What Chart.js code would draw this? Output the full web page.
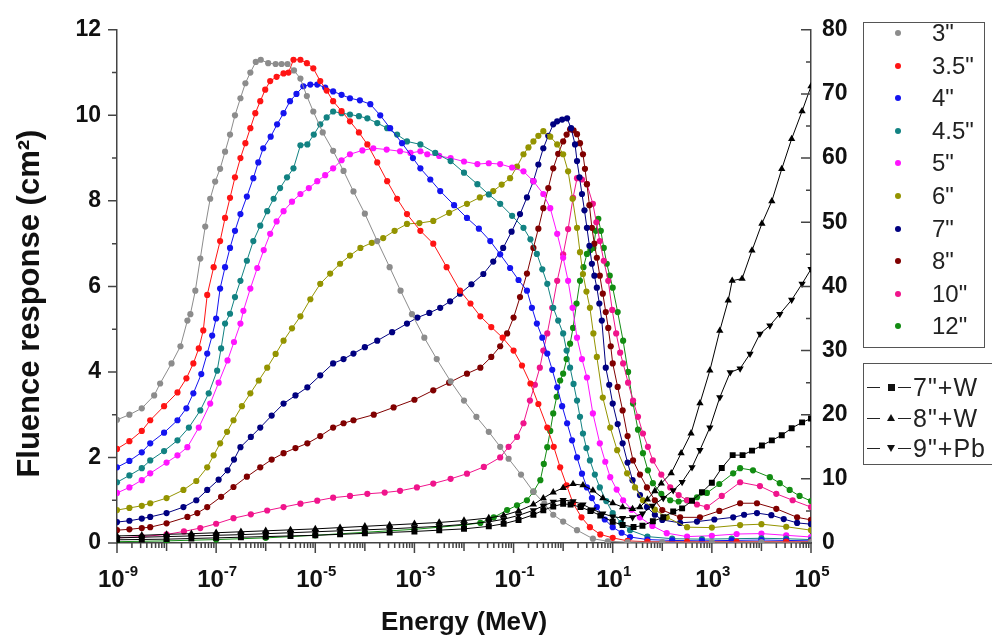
<!DOCTYPE html>
<html><head><meta charset="utf-8">
<script src="https://cdn.jsdelivr.net/npm/chart.js@4.4.0/dist/chart.umd.min.js"></script>
<style>
html,body{margin:0;padding:0;background:#fff;overflow:hidden;width:992px;height:644px;}
#wrap{position:relative;width:992px;height:644px;overflow:hidden;}
#c{position:absolute;left:0;top:0;}
.box{position:absolute;border:1.5px solid #555;background:#fff;box-sizing:border-box;}
.row{position:absolute;font-family:"Liberation Sans",Arial,sans-serif;color:#222;white-space:nowrap;}
.dot{position:absolute;width:6px;height:6px;border-radius:50%;}
.dash{position:absolute;height:0;border-top:1.3px solid #222;width:13px;}
.mk{position:absolute;}
</style>
</head><body><div id="wrap"><canvas id="c" width="992" height="644"></canvas>
<div id="leg1" class="box" style="left:863px;top:22px;width:122px;height:326px;"></div>
<div id="leg2" class="box" style="left:863px;top:363px;width:150px;height:102px;"></div>
</div>
<script>
// ---- data: [log10(Energy/MeV), fluence response] ----
const s3 = [[-9,2.88],[-8.75,3.0],[-8.5,3.15],[-8.25,3.45],[-8.13,3.73],[-7.9,4.2],[-7.72,4.6],[-7.58,5.2],[-7.52,5.35],[-7.42,5.9],[-7.32,6.65],[-7.22,7.4],[-7.12,8.05],[-7.02,8.45],[-6.92,8.75],[-6.82,9.15],[-6.72,9.55],[-6.62,10.0],[-6.51,10.4],[-6.41,10.75],[-6.31,11.0],[-6.2,11.25],[-6.1,11.3],[-5.95,11.22],[-5.8,11.2],[-5.68,11.2],[-5.56,11.2],[-5.43,11.05],[-5.3,10.86],[-5.17,10.45],[-5.04,10.09],[-4.85,9.6],[-4.64,9.17],[-4.43,8.7],[-4.23,8.22],[-4.0,7.7],[-3.75,7.06],[-3.5,6.45],[-3.28,5.9],[-3.05,5.35],[-2.8,4.8],[-2.55,4.3],[-2.27,3.78],[-2.0,3.33],[-1.75,2.95],[-1.5,2.6],[-1.27,2.25],[-1.1,1.97],[-0.85,1.6],[-0.6,1.2],[-0.38,0.92],[-0.2,0.66],[0.0,0.5],[0.28,0.3],[0.6,0.1],[0.9,0.04],[1.3,0.02],[2,0.02],[3,0.02],[4,0.02],[5,0.02]];
const s35 = [[-9,2.2],[-8.75,2.38],[-8.5,2.62],[-8.33,2.87],[-8.05,3.2],[-7.78,3.52],[-7.6,3.85],[-7.46,4.2],[-7.35,4.55],[-7.26,4.97],[-7.18,5.8],[-7.05,6.45],[-6.92,7.06],[-6.82,7.6],[-6.72,8.07],[-6.62,8.55],[-6.51,9.0],[-6.41,9.35],[-6.31,9.7],[-6.21,10.05],[-6.11,10.33],[-6.01,10.6],[-5.91,10.8],[-5.78,10.9],[-5.64,10.98],[-5.54,11.0],[-5.44,11.3],[-5.3,11.3],[-5.17,11.22],[-5.04,11.1],[-4.9,10.8],[-4.77,10.58],[-4.64,10.33],[-4.47,10.1],[-4.3,9.86],[-4.12,9.6],[-3.95,9.32],[-3.75,8.9],[-3.55,8.46],[-3.35,8.05],[-3.15,7.69],[-2.88,7.3],[-2.62,7.0],[-2.35,6.45],[-2.08,5.9],[-1.87,5.6],[-1.67,5.3],[-1.45,5.05],[-1.22,4.8],[-1.0,4.5],[-0.83,4.15],[-0.66,3.73],[-0.5,3.25],[-0.32,2.7],[-0.19,2.25],[-0.06,1.77],[0.07,1.35],[0.2,0.93],[0.37,0.6],[0.54,0.37],[0.75,0.2],[1.0,0.12],[1.3,0.05],[1.7,0.03],[2.5,0.03],[3.5,0.03],[4.5,0.03],[5,0.03]];
const s4 = [[-9,1.77],[-8.75,1.92],[-8.5,2.12],[-8.33,2.33],[-8.05,2.58],[-7.78,2.87],[-7.6,3.15],[-7.46,3.5],[-7.3,3.95],[-7.18,4.43],[-7.08,4.85],[-7.0,5.25],[-6.92,5.95],[-6.82,6.45],[-6.72,6.9],[-6.62,7.3],[-6.51,7.69],[-6.38,8.1],[-6.25,8.53],[-6.15,8.9],[-6.05,9.23],[-5.9,9.5],[-5.77,9.79],[-5.64,10.05],[-5.51,10.33],[-5.38,10.5],[-5.24,10.68],[-5.1,10.72],[-4.96,10.72],[-4.8,10.65],[-4.64,10.56],[-4.47,10.48],[-4.3,10.4],[-4.1,10.35],[-3.89,10.26],[-3.69,10.0],[-3.49,9.7],[-3.25,9.35],[-3.03,9.0],[-2.88,8.76],[-2.68,8.5],[-2.48,8.23],[-2.2,7.9],[-1.94,7.6],[-1.7,7.35],[-1.47,7.06],[-1.27,6.75],[-1.07,6.43],[-0.9,6.15],[-0.73,5.9],[-0.63,5.5],[-0.53,5.13],[-0.42,4.8],[-0.32,4.43],[-0.22,4.05],[-0.12,3.64],[-0.02,3.2],[0.08,2.8],[0.18,2.4],[0.28,2.0],[0.38,1.62],[0.48,1.3],[0.58,1.05],[0.68,0.84],[0.84,0.55],[1.0,0.37],[1.18,0.24],[1.35,0.14],[1.7,0.08],[2.2,0.06],[2.8,0.05],[3.4,0.06],[4.0,0.07],[4.5,0.06],[5,0.05]];
const s45 = [[-9,1.42],[-8.75,1.58],[-8.5,1.75],[-8.33,1.93],[-8.05,2.15],[-7.78,2.4],[-7.55,2.7],[-7.32,3.1],[-7.15,3.5],[-6.98,4.03],[-6.9,4.55],[-6.82,5.13],[-6.72,5.36],[-6.62,5.75],[-6.51,6.13],[-6.38,6.6],[-6.25,7.06],[-6.11,7.42],[-5.97,7.76],[-5.84,8.05],[-5.71,8.3],[-5.57,8.55],[-5.44,8.76],[-5.3,9.3],[-5.16,9.32],[-5.03,9.55],[-4.9,9.79],[-4.77,9.95],[-4.64,10.09],[-4.47,10.05],[-4.3,10.02],[-4.12,9.98],[-3.95,9.93],[-3.75,9.82],[-3.55,9.7],[-3.35,9.55],[-3.15,9.39],[-2.88,9.32],[-2.58,9.12],[-2.27,8.93],[-2.0,8.66],[-1.73,8.39],[-1.5,8.15],[-1.27,7.93],[-1.03,7.65],[-0.8,7.37],[-0.66,7.1],[-0.53,6.76],[-0.42,6.4],[-0.32,6.06],[-0.2,5.5],[-0.1,5.2],[0.0,4.9],[0.07,4.5],[0.14,4.1],[0.21,3.72],[0.28,3.33],[0.34,2.95],[0.4,2.56],[0.47,2.22],[0.54,1.93],[0.64,1.6],[0.74,1.3],[0.87,0.98],[1.0,0.7],[1.17,0.47],[1.35,0.3],[1.7,0.15],[2.2,0.1],[2.8,0.09],[3.4,0.1],[4.0,0.11],[4.5,0.1],[5,0.08]];
const s5 = [[-9,1.17],[-8.75,1.3],[-8.5,1.47],[-8.33,1.63],[-8.0,1.88],[-7.78,2.05],[-7.58,2.24],[-7.35,2.7],[-7.12,3.26],[-6.95,3.75],[-6.77,4.27],[-6.64,4.7],[-6.51,5.13],[-6.45,5.43],[-6.31,5.95],[-6.17,6.43],[-6.04,6.85],[-5.91,7.23],[-5.78,7.52],[-5.64,7.76],[-5.47,7.98],[-5.3,8.16],[-5.13,8.3],[-4.96,8.46],[-4.8,8.6],[-4.64,8.76],[-4.47,8.95],[-4.3,9.09],[-4.05,9.18],[-3.83,9.23],[-3.56,9.2],[-3.29,9.16],[-3.08,9.12],[-2.88,9.16],[-2.74,9.09],[-2.5,9.05],[-2.27,9.0],[-2.0,8.92],[-1.73,8.86],[-1.5,8.88],[-1.27,8.86],[-1.03,8.78],[-0.8,8.69],[-0.6,8.46],[-0.4,8.16],[-0.26,7.83],[-0.12,7.23],[0.0,6.67],[0.1,6.13],[0.19,5.5],[0.28,4.8],[0.38,4.3],[0.48,3.87],[0.6,3.03],[0.74,2.33],[0.85,1.9],[0.95,1.54],[1.08,1.25],[1.21,1.0],[1.38,0.78],[1.55,0.6],[1.8,0.4],[2.09,0.23],[2.5,0.15],[3.0,0.17],[3.5,0.21],[4.0,0.22],[4.5,0.18],[5,0.14]];
const s6 = [[-9,0.77],[-8.75,0.82],[-8.5,0.87],[-8.33,0.93],[-8.0,1.05],[-7.66,1.24],[-7.4,1.45],[-7.18,1.77],[-7.05,2.05],[-6.92,2.33],[-6.78,2.6],[-6.65,2.87],[-6.48,3.2],[-6.31,3.5],[-6.14,3.8],[-5.97,4.1],[-5.8,4.42],[-5.64,4.73],[-5.47,5.02],[-5.3,5.3],[-5.1,5.7],[-4.9,6.06],[-4.7,6.3],[-4.5,6.53],[-4.3,6.72],[-4.09,6.9],[-3.86,7.02],[-3.63,7.13],[-3.4,7.3],[-3.15,7.46],[-2.9,7.48],[-2.62,7.53],[-2.3,7.72],[-1.94,7.93],[-1.68,8.08],[-1.41,8.23],[-1.24,8.38],[-1.07,8.53],[-0.93,8.8],[-0.8,9.09],[-0.7,9.25],[-0.6,9.39],[-0.5,9.52],[-0.4,9.63],[-0.26,9.5],[-0.12,9.32],[0.0,9.09],[0.1,8.69],[0.19,8.05],[0.28,7.37],[0.34,6.8],[0.4,6.29],[0.47,5.88],[0.54,5.5],[0.61,4.9],[0.68,4.35],[0.8,3.4],[0.95,2.7],[1.09,2.17],[1.29,1.63],[1.45,1.3],[1.61,1.0],[1.85,0.78],[2.09,0.6],[2.5,0.37],[3.0,0.36],[3.57,0.42],[4.0,0.44],[4.5,0.38],[5,0.3]];
const s7 = [[-9,0.49],[-8.75,0.52],[-8.5,0.57],[-8.33,0.61],[-8.0,0.7],[-7.66,0.84],[-7.4,1.0],[-7.18,1.24],[-6.95,1.48],[-6.77,1.7],[-6.64,1.95],[-6.51,2.24],[-6.3,2.48],[-6.11,2.7],[-5.88,2.98],[-5.64,3.26],[-5.4,3.45],[-5.16,3.64],[-4.9,3.92],[-4.64,4.2],[-4.43,4.3],[-4.23,4.43],[-4.0,4.58],[-3.75,4.73],[-3.45,4.93],[-3.15,5.13],[-2.94,5.27],[-2.7,5.38],[-2.48,5.5],[-2.28,5.65],[-2.08,5.83],[-1.85,6.05],[-1.61,6.29],[-1.41,6.58],[-1.21,6.9],[-1.04,7.28],[-0.87,7.69],[-0.73,8.08],[-0.6,8.46],[-0.5,8.85],[-0.4,9.23],[-0.3,9.52],[-0.2,9.79],[-0.12,9.86],[-0.02,9.9],[0.08,9.93],[0.16,9.7],[0.24,9.32],[0.28,8.93],[0.33,8.55],[0.38,8.16],[0.43,7.78],[0.48,7.37],[0.53,6.95],[0.58,6.53],[0.63,6.25],[0.68,5.97],[0.73,5.6],[0.78,5.2],[0.86,4.1],[0.93,3.7],[1.0,3.26],[1.1,2.78],[1.2,2.33],[1.3,1.88],[1.4,1.47],[1.55,1.12],[1.69,0.84],[1.85,0.66],[2.0,0.54],[2.36,0.47],[2.7,0.5],[3.05,0.55],[3.43,0.6],[3.65,0.66],[3.91,0.7],[4.2,0.65],[4.45,0.56],[4.72,0.47],[5,0.44]];
const s8 = [[-9,0.3],[-8.75,0.32],[-8.5,0.35],[-8.33,0.37],[-8.0,0.46],[-7.58,0.61],[-7.38,0.7],[-7.18,0.84],[-6.9,1.08],[-6.65,1.31],[-6.38,1.55],[-6.11,1.77],[-5.88,1.95],[-5.64,2.1],[-5.4,2.22],[-5.16,2.33],[-4.9,2.5],[-4.64,2.7],[-4.43,2.8],[-4.23,2.87],[-3.82,3.0],[-3.42,3.17],[-3.0,3.35],[-2.62,3.57],[-2.3,3.75],[-1.94,3.96],[-1.67,4.1],[-1.45,4.35],[-1.27,4.6],[-1.13,4.9],[-1.0,5.27],[-0.87,5.75],[-0.73,6.3],[-0.6,6.9],[-0.5,7.35],[-0.4,7.83],[-0.3,8.3],[-0.2,8.76],[-0.1,9.1],[0.0,9.39],[0.07,9.55],[0.14,9.67],[0.21,9.65],[0.28,9.56],[0.34,9.35],[0.4,9.09],[0.44,8.75],[0.48,8.39],[0.53,7.9],[0.58,7.37],[0.63,7.0],[0.68,6.67],[0.74,6.25],[0.8,5.83],[0.86,5.4],[0.91,5.03],[0.96,4.6],[1.0,4.2],[1.1,3.65],[1.2,3.1],[1.3,2.5],[1.41,1.93],[1.55,1.6],[1.69,1.3],[1.85,1.0],[2.0,0.77],[2.36,0.6],[2.76,0.6],[3.15,0.75],[3.57,0.93],[3.91,0.93],[4.3,0.8],[4.72,0.6],[5,0.54]];
const s10 = [[-9,0.12],[-8.5,0.15],[-8.0,0.2],[-7.65,0.27],[-7.32,0.35],[-7.0,0.45],[-6.65,0.58],[-6.3,0.67],[-5.97,0.76],[-5.64,0.84],[-5.3,0.92],[-4.96,0.99],[-4.64,1.06],[-4.3,1.1],[-3.95,1.15],[-3.6,1.18],[-3.29,1.22],[-2.95,1.3],[-2.62,1.39],[-2.27,1.5],[-1.94,1.62],[-1.6,1.78],[-1.27,2.0],[-1.1,2.25],[-0.93,2.48],[-0.8,2.8],[-0.67,3.33],[-0.57,3.7],[-0.47,4.1],[-0.4,4.5],[-0.32,4.9],[-0.22,5.5],[-0.12,6.13],[0.0,6.75],[0.1,7.34],[0.2,8.07],[0.28,8.53],[0.38,8.5],[0.48,8.39],[0.6,7.93],[0.67,7.5],[0.74,7.06],[0.82,6.6],[0.91,6.13],[0.99,5.45],[1.07,4.9],[1.15,4.45],[1.21,4.2],[1.31,3.75],[1.41,3.33],[1.51,2.95],[1.61,2.56],[1.71,2.25],[1.81,1.93],[1.98,1.6],[2.16,1.3],[2.33,1.12],[2.5,1.0],[2.7,0.9],[2.9,0.84],[3.2,1.1],[3.57,1.42],[3.97,1.33],[4.3,1.15],[4.63,1.0],[5,0.84]];
const s12 = [[-9,0.03],[-8,0.05],[-7,0.08],[-6,0.12],[-5,0.18],[-4,0.25],[-3,0.32],[-2.5,0.37],[-2,0.42],[-1.67,0.47],[-1.4,0.6],[-1.13,0.77],[-0.93,0.88],[-0.73,1.0],[-0.6,1.2],[-0.46,1.47],[-0.39,1.85],[-0.32,2.24],[-0.26,2.62],[-0.2,3.03],[-0.13,3.42],[-0.06,3.8],[0.0,3.96],[0.07,4.3],[0.14,4.66],[0.2,5.03],[0.27,5.6],[0.34,6.13],[0.41,6.45],[0.48,6.76],[0.55,6.85],[0.61,6.9],[0.66,7.3],[0.71,7.58],[0.76,7.3],[0.82,6.9],[0.88,6.53],[0.94,6.25],[1.0,5.97],[1.1,5.4],[1.21,4.73],[1.31,4.0],[1.41,3.26],[1.51,2.65],[1.61,2.1],[1.71,1.7],[1.81,1.4],[1.98,1.15],[2.16,1.0],[2.33,0.97],[2.5,1.0],[2.7,1.07],[2.9,1.17],[3.15,1.38],[3.43,1.63],[3.57,1.75],[3.83,1.7],[4.17,1.54],[4.37,1.4],[4.57,1.24],[4.77,1.1],[5,0.98]];
// right-axis series
const w7 = [[-9,0.5],[-8.5,0.55],[-8,0.6],[-7.5,0.7],[-7,0.8],[-6.5,0.9],[-6,1.0],[-5.5,1.1],[-5,1.2],[-4.5,1.35],[-4,1.5],[-3.5,1.65],[-3,1.8],[-2.5,2.0],[-2,2.2],[-1.5,2.6],[-1.2,3.0],[-0.9,3.6],[-0.6,4.4],[-0.4,5.1],[-0.2,5.7],[0.0,6.1],[0.15,6.0],[0.35,5.6],[0.55,5.0],[0.75,4.3],[1.0,3.3],[1.2,2.8],[1.42,2.5],[1.6,2.7],[1.81,3.4],[2.02,4.0],[2.22,4.9],[2.4,5.4],[2.6,6.6],[2.8,7.9],[3.0,9.4],[3.2,11.7],[3.42,13.7],[3.62,13.7],[3.81,14.4],[4.01,15.2],[4.21,16.0],[4.41,16.8],[4.61,17.9],[4.82,18.8],[5.0,19.4]];
const w8 = [[-9,1.1],[-8.5,1.2],[-8,1.35],[-7.5,1.45],[-7,1.6],[-6.5,1.75],[-6,1.9],[-5.5,2.05],[-5,2.2],[-4.5,2.4],[-4,2.6],[-3.5,2.8],[-3,3.0],[-2.5,3.2],[-2,3.5],[-1.5,3.9],[-1.2,4.3],[-0.9,5.0],[-0.6,6.0],[-0.4,7.0],[-0.2,7.9],[0.0,8.6],[0.2,9.2],[0.4,9.0],[0.6,8.2],[0.8,7.0],[1.0,6.2],[1.2,5.6],[1.4,5.3],[1.55,5.6],[1.7,6.8],[1.85,8.1],[1.98,9.3],[2.18,10.9],[2.38,14.0],[2.58,17.1],[2.76,21.8],[2.96,26.9],[3.16,33.1],[3.33,37.8],[3.41,40.9],[3.61,41.2],[3.81,45.6],[4.01,49.8],[4.21,53.3],[4.41,58.3],[4.61,63.0],[4.82,67.3],[5.0,71.2]];
const pb9 = [[-9,0.8],[-8.5,0.9],[-8,1.0],[-7.5,1.1],[-7,1.2],[-6.5,1.3],[-6,1.45],[-5.5,1.6],[-5,1.75],[-4.5,1.9],[-4,2.05],[-3.5,2.2],[-3,2.4],[-2.5,2.6],[-2,2.9],[-1.5,3.3],[-1.2,3.7],[-0.9,4.3],[-0.6,5.1],[-0.4,5.8],[-0.2,6.4],[0.0,6.7],[0.2,6.5],[0.4,6.0],[0.6,5.2],[0.8,4.6],[1.0,4.1],[1.2,3.9],[1.4,4.0],[1.6,4.6],[1.8,5.8],[2.02,7.0],[2.22,8.2],[2.4,9.5],[2.6,11.8],[2.76,14.5],[2.96,18.0],[3.16,22.7],[3.37,26.6],[3.57,27.2],[3.77,29.5],[3.97,32.6],[4.17,33.9],[4.37,35.7],[4.61,37.9],[4.82,40.4],[5.0,42.7]];

const seriesNames = ['3"','3.5"','4"','4.5"','5"','6"','7"','8"','10"','12"'];
const seriesData = [s3,s35,s4,s45,s5,s6,s7,s8,s10,s12];
const seriesColors = ['#8c8c8c','#ff1414','#1414f0','#128282','#ff14ff','#949400','#000080','#800000','#f0148c','#128c12'];
const blackNames = ['7"+W','8"+W','9"+Pb'];
const blackData = [w7,w8,pb9];
const blackStyles = ['rect','triangle','triangle'];
const blackRot = [0,0,180];

const xTickExps = [-9,-8,-7,-6,-5,-4,-3,-2,-1,0,1,2,3,4,5];
const xTickBase = ['10','','10','','10','','10','','10','','10','','10','','10'];
const xTickPow  = ['-9','','-7','','-5','','-3','','-1','','1','','3','','5'];
const yTicks = [0,2,4,6,8,10,12];
const y2Ticks = [0,10,20,30,40,50,60,70,80];

const toXY = arr => arr.map(p => ({x: Math.pow(10, p[0]), y: p[1]}));

const datasets = [];
blackData.forEach((d,i)=>{
  datasets.push({label: blackNames[i], data: toXY(d), yAxisID:'y2',
    borderColor:'#000', backgroundColor:'#000', borderWidth:1,
    pointStyle: blackStyles[i], pointRotation: blackRot[i], pointRadius: 4.2, pointBorderWidth:0,
    tension:0, order: i});
});
seriesData.forEach((d,i)=>{
  datasets.push({label: seriesNames[i], data: toXY(d), yAxisID:'y',
    borderColor: seriesColors[i], backgroundColor: seriesColors[i], borderWidth:1,
    pointStyle:'circle', pointRadius:3.1, pointBorderWidth:0, tension:0, order: 10+i});
});

const FONT = '"Liberation Sans", Arial, Helvetica, sans-serif';
Chart.defaults.font.family = FONT;

const tickPlugin = {
  id:'axisTicks',
  afterDraw(chart){
    const {ctx, chartArea:a} = chart;
    const x = chart.scales.x, y = chart.scales.y, y2 = chart.scales.y2;
    ctx.save();
    ctx.strokeStyle = '#444'; ctx.lineWidth = 1.5; ctx.beginPath();
    xTickExps.forEach((e,i)=>{
      const px = x.getPixelForValue(Math.pow(10,e));
      const len = xTickBase[i] ? 10 : 8;
      ctx.moveTo(px, a.bottom); ctx.lineTo(px, a.bottom + len);
      if (i < xTickExps.length - 1) {
        for (let m = 2; m <= 9; m++) {
          const mp = x.getPixelForValue(m * Math.pow(10,e));
          ctx.moveTo(mp, a.bottom); ctx.lineTo(mp, a.bottom + 5);
        }
      }
    });
    for (let v = 0; v <= 12; v++) {
      const py = y.getPixelForValue(v);
      ctx.moveTo(a.left, py); ctx.lineTo(a.left - (v % 2 === 0 ? 9 : 5), py);
    }
    for (let v = 0; v <= 80; v += 5) {
      const py = y2.getPixelForValue(v);
      ctx.moveTo(a.right, py); ctx.lineTo(a.right - (v % 10 === 0 ? 10 : 5), py);
    }
    ctx.stroke();
    // x tick labels: base "10" with raised exponent
    ctx.fillStyle = '#111';
    ctx.textAlign = 'left'; ctx.textBaseline = 'alphabetic';
    xTickExps.forEach((e,i)=>{
      if (!xTickBase[i]) return;
      const px = x.getPixelForValue(Math.pow(10,e));
      ctx.font = 'bold 24px ' + FONT;
      const wb = ctx.measureText(xTickBase[i]).width;
      ctx.font = 'bold 15px ' + FONT;
      const we = ctx.measureText(xTickPow[i]).width;
      const x0 = px - (wb + we) / 2 + 1;
      ctx.font = 'bold 24px ' + FONT;
      ctx.fillText(xTickBase[i], x0, a.bottom + 44);
      ctx.font = 'bold 15px ' + FONT;
      ctx.fillText(xTickPow[i], x0 + wb, a.bottom + 33);
    });
    ctx.restore();
  }
};

const tickFont = {size:23, weight:'bold'};
new Chart(document.getElementById('c'), {
  type:'line',
  data:{datasets},
  plugins:[tickPlugin],
  options:{
    responsive:false, animation:false, devicePixelRatio:1,
    layout:{padding:{left:0, right:121, top:28, bottom:0}},
    plugins:{legend:{display:false}, tooltip:{enabled:false}},
    scales:{
      x:{type:'logarithmic', position:'bottom', min:1e-9, max:1e5,
        grid:{display:false, drawTicks:false},
        border:{display:true, color:'#444', width:1.5},
        afterBuildTicks: s => { s.ticks = xTickExps.map(e => ({value: Math.pow(10,e)})); },
        ticks:{display:false},
        title:{display:true, text:'Energy (MeV)', color:'#111', font:{size:26, weight:'bold'}, padding:{top:0,bottom:6}},
        afterFit: s => { s.height = 101; }
      },
      y:{position:'left', min:0, max:12,
        grid:{display:false, drawTicks:false},
        border:{display:true, color:'#444', width:1.5},
        afterBuildTicks: s => { s.ticks = yTicks.map(v => ({value:v})); },
        ticks:{padding:16, color:'#111', font:tickFont},
        title:{display:true, text:'Fluence response (cm\u00B2)    ', color:'#111', font:{size:31, weight:'bold'}, padding:{top:12,bottom:0}},
        afterFit: s => { s.width = 117; }
      },
      y2:{position:'right', min:0, max:80,
        grid:{display:false, drawTicks:false},
        border:{display:true, color:'#444', width:1.5},
        afterBuildTicks: s => { s.ticks = y2Ticks.map(v => ({value:v})); },
        ticks:{padding:11, color:'#111', font:tickFont},
        afterFit: s => { s.width = 60; }
      }
    }
  }
});

// legends (HTML text)
const leg1 = document.getElementById('leg1');
seriesNames.forEach((n,i)=>{
  const cy = 10 + i*32.6;
  const dot = document.createElement('div');
  dot.className = 'dot'; dot.style.background = seriesColors[i];
  dot.style.left = '31px'; dot.style.top = (cy - 3) + 'px';
  leg1.appendChild(dot);
  const t = document.createElement('div');
  t.className = 'row'; t.textContent = n;
  t.style.left = '68px'; t.style.top = (cy - 14) + 'px';
  t.style.fontSize = '24px'; t.style.lineHeight = '28px';
  leg1.appendChild(t);
});
const leg2 = document.getElementById('leg2');
const mkHTML = [
  '<div class="mk" style="left:24px;top:-3px;width:7px;height:7px;background:#111"></div>',
  '<div class="mk" style="left:23px;top:-4px;width:0;height:0;border-left:4px solid transparent;border-right:4px solid transparent;border-bottom:7px solid #111"></div>',
  '<div class="mk" style="left:23px;top:-3px;width:0;height:0;border-left:4px solid transparent;border-right:4px solid transparent;border-top:7px solid #111"></div>'
];
blackNames.forEach((n,i)=>{
  const cy = 23 + i*30.5;
  const g = document.createElement('div');
  g.style.position='absolute'; g.style.left='0px'; g.style.top = cy + 'px';
  g.innerHTML = '<div class="dash" style="left:3px;top:0"></div>' + mkHTML[i] + '<div class="dash" style="left:34px;top:0"></div>';
  leg2.appendChild(g);
  const t = document.createElement('div');
  t.className = 'row'; t.textContent = n;
  t.style.left = '49px'; t.style.top = (cy - 14) + 'px';
  t.style.fontSize = '25px'; t.style.lineHeight = '28px'; t.style.letterSpacing = '1px';
  leg2.appendChild(t);
});
</script>
</body></html>
